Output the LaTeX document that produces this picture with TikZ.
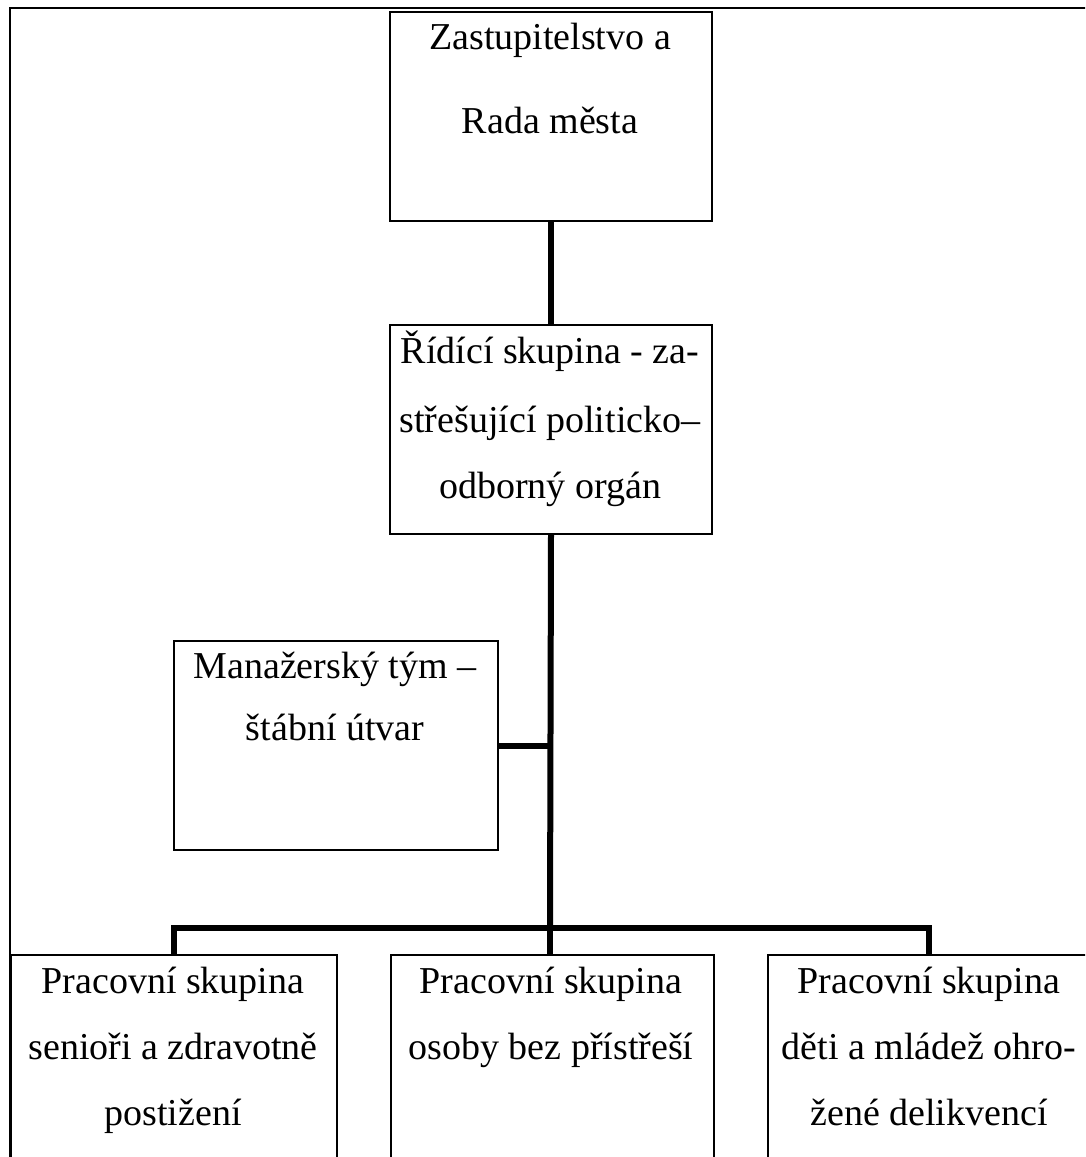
\documentclass[tikz,border=0pt]{standalone}
\usepackage{fontspec}
\setmainfont{Liberation Serif}
\begin{document}
\begin{tikzpicture}[x=1pt,y=-1pt,
  box/.style={draw, line width=2pt, fill=white, minimum width=322pt, minimum height=209pt, anchor=north west, inner sep=0pt},
  link/.style={line width=6pt, line join=miter},
  frameline/.style={line width=2pt},
  txt/.style={anchor=base, inner sep=0pt, font=\fontsize{38}{46}\selectfont}]
\clip (0,0) rectangle (1085,1157);
\fill[white] (0,0) rectangle (1085,1157);
% outer frame
\draw[frameline] (1095,8) -- (10,8) -- (10,1170);
% boxes
\node[box] (council) at (389,11) {};
\node[box] (steer) at (389,324) {};
\node[box, minimum width=324pt] (mgmt) at (173,640) {};
\node[box, minimum width=326pt] (wg1) at (10,954) {};
\node[box, minimum width=323pt] (wg2) at (390,954) {};
\node[box] (wg3) at (767,954) {};
% connectors
\coordinate (bus) at (550,928);
\draw[link] (council.south) -- (steer.north);
\draw[link] (steer.south) -- (bus);
\draw[link] (mgmt.east) -- (mgmt.east -| steer.south);
\draw[link] (wg1.north) |- (bus) -| (wg3.north);
\draw[link] (bus) -- (bus |- wg2.north);
% texts
\node[txt] (c1) at (550,49) {Zastupitelstvo a};
\node[txt] (c2) at (550,133) {Rada města};
\node[txt] (s1) at (550,363) {Řídící skupina - za-};
\node[txt] (s2) at (550,432) {střešující politicko–};
\node[txt] (s3) at (550,498) {odborný orgán};
\node[txt] (m1) at (335,678) {Manažerský tým –};
\node[txt] (m2) at (335,740) {štábní útvar};
\node[txt] (a1) at (173,993) {Pracovní skupina};
\node[txt] (a2) at (173,1059) {senioři a zdravotně};
\node[txt] (a3) at (173,1125) {postižení};
\node[txt] (b1) at (551,993) {Pracovní skupina};
\node[txt] (b2) at (551,1059) {osoby bez přístřeší};
\node[txt] (d1) at (929,993) {Pracovní skupina};
\node[txt] (d2) at (929,1059) {děti a mládež ohro-};
\node[txt] (d3) at (929,1125) {žené delikvencí};
\end{tikzpicture}
\end{document}
